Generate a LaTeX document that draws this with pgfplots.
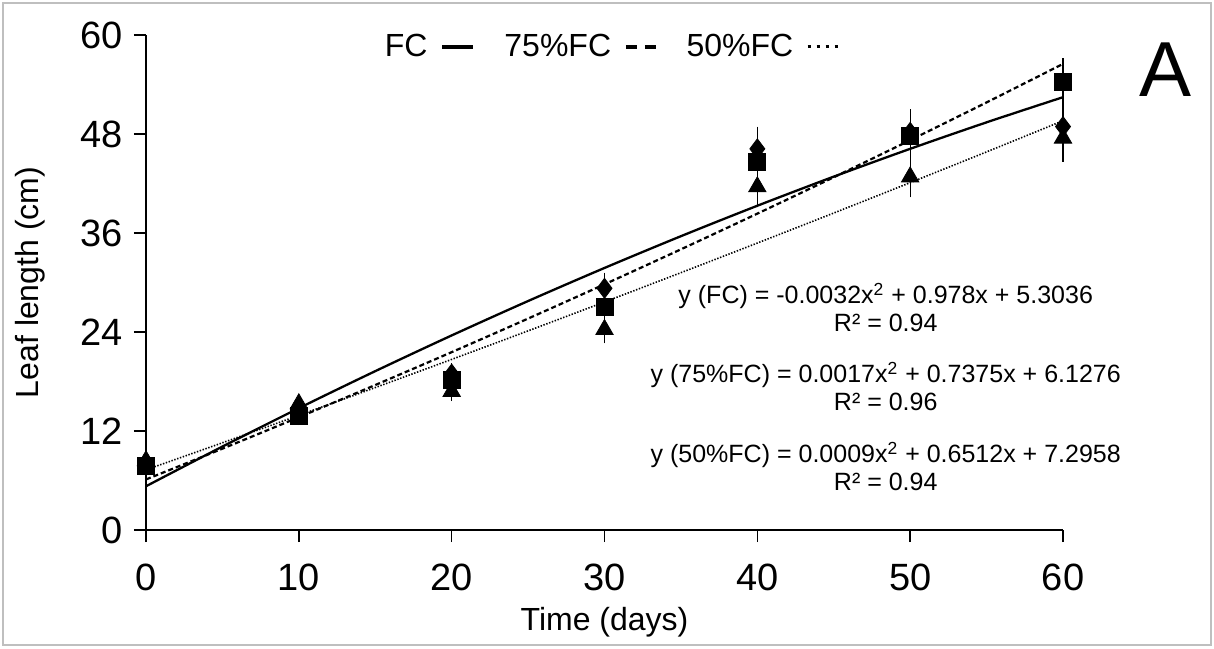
\documentclass[border=0pt]{standalone}
\usepackage{fontspec}
\setmainfont{Liberation Sans}
\usepackage{pgfplots}
\pgfplotsset{compat=1.18}
\begin{document}
\begin{tikzpicture}
\useasboundingbox (-73pt,-59pt) rectangle (534pt,265pt);
\draw[color=black!25, line width=0.8pt] (-71.5pt,-57.5pt) rectangle (532.5pt,263.5pt);
\begin{axis}[
  at={(0,0)}, anchor=south west,
  scale only axis, width=458.5pt, height=247.5pt,
  xmin=0, xmax=60, ymin=0, ymax=60,
  axis x line=bottom, axis y line=left,
  axis line style={-, line width=0.8pt},
  x axis line style={-}, y axis line style={-},
  xtick={0,10,...,60}, ytick={0,12,...,60},
  tick align=outside, major tick length=6pt,
  tick style={line width=0.8pt, black},
  /pgf/number format/assume math mode=true,
  ticklabel style={font=\fontsize{19}{19}\selectfont},
  xticklabel style={yshift=-7.5pt},
  yticklabel style={xshift=-2pt},
  xlabel={Time (days)}, ylabel={Leaf length (cm)},
  every axis x label/.style={at={(axis description cs:0.5,-0.186)}, anchor=center, font=\fontsize{16}{16}\selectfont},
  every axis y label/.style={at={(axis description cs:-0.1265,0.5)}, anchor=center, rotate=90, font=\fontsize{16}{16}\selectfont},
  clip=false,
  legend plot pos=right,
  legend columns=3,
  legend style={draw=none, fill=none, at={(axis description cs:0.506,0.976)}, anchor=center,
    font=\fontsize{16}{16}\selectfont,
    /tikz/every odd column/.append style={column sep=4.5pt},
    /tikz/every even column/.append style={column sep=12.5pt}},
  legend image code/.code={\draw[#1] (0pt,0pt) -- (15.5pt,0pt);},
]
% trend lines (from fitted equations)
\addplot[black, line width=1.15pt, smooth,
  legend image code/.code={\draw[black, line width=2pt] (0pt,0pt) -- (15.5pt,0pt);}] coordinates {
(0,5.304) (5,10.114) (10,14.764) (15,19.254) (20,23.584) (25,27.754) (30,31.764)
(35,35.614) (40,39.304) (45,42.834) (50,46.204) (55,49.414) (60,52.464)};
\addlegendentry{FC}
\addplot[black, line width=1.1pt, dash pattern=on 2.5pt off 1.5pt, smooth,
  legend image code/.code={\draw[black, line width=1.7pt, dash pattern=on 5.5pt off 4pt] (0pt,0pt) -- (15pt,0pt);}] coordinates {
(0,6.128) (5,9.858) (10,13.673) (15,17.573) (20,21.558) (25,25.628) (30,29.783)
(35,34.023) (40,38.348) (45,42.758) (50,47.253) (55,51.833) (60,56.498)};
\addlegendentry{75\%FC}
\addplot[black, line width=0.8pt, dash pattern=on 0.7pt off 0.8pt, smooth,
  legend image code/.code={\draw[black, line width=1.5pt, dash pattern=on 1.5pt off 3pt] (0pt,0pt) -- (15pt,0pt);}] coordinates {
(0,7.296) (5,10.574) (10,13.898) (15,17.266) (20,20.680) (25,24.138) (30,27.642)
(35,31.190) (40,34.784) (45,38.422) (50,42.106) (55,45.834) (60,49.608)};
\addlegendentry{50\%FC}
% data points
\addplot[forget plot, only marks, black, mark=diamond*, mark size=5pt, mark options={fill=black},
  error bars/.cd, y dir=both, y explicit,
  error bar style={line width=0.6pt, black},
  error mark options={mark size=2pt, line width=0.6pt, black}] coordinates {
(0,8.0) +- (0,0.5) (10,14.8) +- (0,0.7) (20,18.9) +- (0,0.8) (30,29.3) +- (0,1.4)
(40,46.2) +- (0,2.2) (50,48.2) +- (0,2.3) (60,48.9) +- (0,2.4)};
\addplot[forget plot, only marks, black, mark=square*, mark size=4.25pt, mark options={fill=black},
  error bars/.cd, y dir=both, y explicit,
  error bar style={line width=0.6pt, black},
  error mark options={mark size=2pt, line width=0.6pt, black}] coordinates {
(0,7.8) +- (0,0.5) (10,13.8) +- (0,0.6) (20,18.2) +- (0,0.8) (30,27.0) +- (0,1.3)
(40,44.6) +- (0,2.0) (50,47.8) +- (0,2.5) (60,54.3) +- (0,2.4)};
\addplot[forget plot, only marks, black, mark=triangle*, mark size=5pt, mark options={fill=black},
  error bars/.cd, y dir=both, y explicit,
  error bar style={line width=0.6pt, black},
  error mark options={mark size=2pt, line width=0.6pt, black}] coordinates {
(0,8.4) +- (0,0.5) (10,15.3) +- (0,0.7) (20,16.8) +- (0,0.7) (30,24.3) +- (0,1.2)
(40,41.6) +- (0,2.0) (50,42.8) +- (0,2.0) (60,47.5) +- (0,2.4)};
% equations
\node[font=\fontsize{12.5}{14}\selectfont, align=center] at (axis cs:48.4,26.97)
  {y (FC) = -0.0032x\textsuperscript{2} + 0.978x + 5.3036\\R² = 0.94};
\node[font=\fontsize{12.5}{14}\selectfont, align=center] at (axis cs:48.4,17.4)
  {y (75\%FC) = 0.0017x\textsuperscript{2} + 0.7375x + 6.1276\\R² = 0.96};
\node[font=\fontsize{12.5}{14}\selectfont, align=center] at (axis cs:48.4,7.7)
  {y (50\%FC) = 0.0009x\textsuperscript{2} + 0.6512x + 7.2958\\R² = 0.94};
\node[font=\fontsize{39}{39}\selectfont] at (axis cs:66.7,55.8) {A};
\end{axis}
\end{tikzpicture}
\end{document}
